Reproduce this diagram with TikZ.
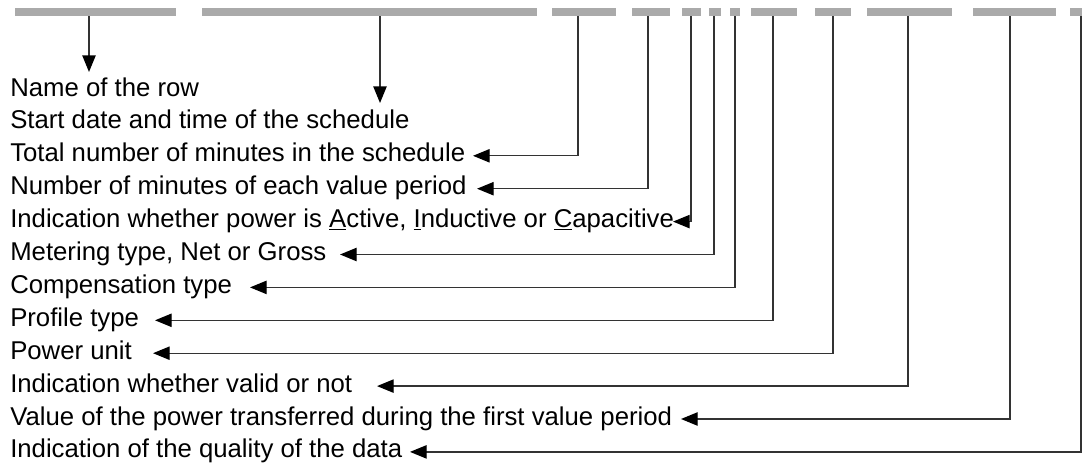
\documentclass[tikz,border=0pt]{standalone}
\usepackage{fontspec}
\setmainfont{Liberation Sans}
\usetikzlibrary{arrows.meta}
\definecolor{barGray}{HTML}{AAAAAA}
\definecolor{leadGray}{HTML}{333333}
\tikzset{
  seg/.style={draw=barGray, line width=6pt},
  lead/.style={draw=leadGray, line width=1pt, -{Triangle[length=12.5pt,width=10pt,color=black]}},
  lbl/.style={anchor=base west, inner sep=0pt, font=\fontsize{19.3}{23}\selectfont}
}
\begin{document}
\begin{tikzpicture}[x=0.75pt,y=0.75pt,yscale=-1,xscale=1]
\useasboundingbox (0,0) rectangle (1082,468);

%Bar segments of the row
\draw [seg] (15,12) -- (176,12) ;
\draw [seg] (202,12) -- (537,12) ;
\draw [seg] (552,12) -- (616,12) ;
\draw [seg] (632,12) -- (670,12) ;
\draw [seg] (682,12) -- (701,12) ;
\draw [seg] (709,12) -- (721,12) ;
\draw [seg] (730,12) -- (740,12) ;
\draw [seg] (751,12) -- (797,12) ;
\draw [seg] (815,12) -- (851,12) ;
\draw [seg] (867,12) -- (952,12) ;
\draw [seg] (973,12) -- (1056,12) ;
\draw [seg] (1070,12) -- (1082,12) ;

%Start points below the bar
\coordinate (bName) at (89,16) ;
\coordinate (bStart) at (380,16) ;
\coordinate (bTotal) at (578,16) ;
\coordinate (bPeriod) at (648,16) ;
\coordinate (bPower) at (691,16) ;
\coordinate (bMeter) at (714,16) ;
\coordinate (bComp) at (735,16) ;
\coordinate (bProfile) at (773,16) ;
\coordinate (bUnit) at (833,16) ;
\coordinate (bValid) at (908,16) ;
\coordinate (bValue) at (1010,16) ;
\coordinate (bQuality) at (1081,16) ;

%Arrow tips
\coordinate (tName) at (89,72) ;
\coordinate (tStart) at (380,103) ;
\coordinate (tTotal) at (473,155.8) ;
\coordinate (tPeriod) at (477,188.7) ;
\coordinate (tPower) at (673,221.6) ;
\coordinate (tMeter) at (340,254.5) ;
\coordinate (tComp) at (250,287.4) ;
\coordinate (tProfile) at (155,320.3) ;
\coordinate (tUnit) at (153,353.2) ;
\coordinate (tValid) at (377,386.1) ;
\coordinate (tValue) at (681,419) ;
\coordinate (tQuality) at (410,451.9) ;

% Text Node
\node [lbl] (name) at (10,96) {Name of the row};
% Text Node
\node [lbl] (start) at (10,128.9) {Start date and time of the schedule};
% Text Node
\node [lbl] (total) at (10,161.8) {Total number of minutes in the schedule};
% Text Node
\node [lbl] (period) at (10,194.7) {Number of minutes of each value period};
% Text Node
\node [lbl] (power) at (10,227.6) {Indication whether power is \underline{A}ctive, \underline{I}nductive or \underline{C}apacitive};
% Text Node
\node [lbl] (meter) at (10,260.5) {Metering type, Net or Gross};
% Text Node
\node [lbl] (comp) at (10,293.4) {Compensation type};
% Text Node
\node [lbl] (profile) at (10,326.3) {Profile type};
% Text Node
\node [lbl] (unit) at (10,359.2) {Power unit};
% Text Node
\node [lbl] (valid) at (10,392.1) {Indication whether valid or not};
% Text Node
\node [lbl] (value) at (10,425) {Value of the power transferred during the first value period};
% Text Node
\node [lbl] (quality) at (10,457.9) {Indication of the quality of the data};

%Leader arrows
\draw [lead] (bName) -- (tName) ;
\draw [lead] (bStart) -- (tStart) ;
\draw [lead] (bTotal) |- (tTotal) ;
\draw [lead] (bPeriod) |- (tPeriod) ;
\draw [lead] (bPower) |- (tPower) ;
\draw [lead] (bMeter) |- (tMeter) ;
\draw [lead] (bComp) |- (tComp) ;
\draw [lead] (bProfile) |- (tProfile) ;
\draw [lead] (bUnit) |- (tUnit) ;
\draw [lead] (bValid) |- (tValid) ;
\draw [lead] (bValue) |- (tValue) ;
\draw [lead] (bQuality) |- (tQuality) ;

\end{tikzpicture}
\end{document}
